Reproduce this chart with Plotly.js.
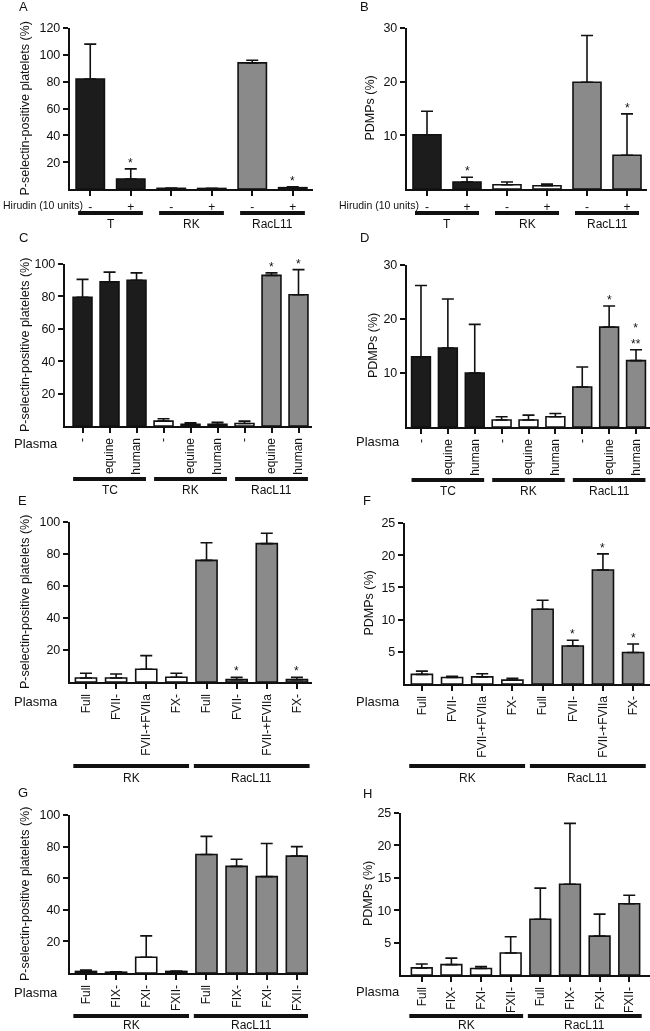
<!DOCTYPE html>
<html>
<head>
<meta charset="utf-8">
<script src="https://cdn.plot.ly/plotly-3.0.1.min.js"></script>
<style>
  body { margin: 0; background: #fff; }
  #chart { width: 650px; height: 1031px; }
  .main-svg { will-change: transform; }
</style>
</head>
<body>
<div id="chart"></div>
<script>
// ---- data ----
const hirudinTicks = ['-', '+', '-', '+', '-', '+'];
const groupsAB = ['T', 'RK', 'RacL11'];
const aMean = [82, 7.5, 0.5, 0.4, 94, 1];
const aErr = [26, 7.5, 0.2, 0.1, 2, 0.6];
const bMean = [10.1, 1.3, 0.8, 0.6, 19.9, 6.3];
const bErr = [4.4, 0.9, 0.5, 0.3, 8.7, 7.7];

const plasmaTicksCD = ['-', 'equine', 'human', '-', 'equine', 'human', '-', 'equine', 'human'];
const groupsCD = ['TC', 'RK', 'RacL11'];
const cMean = [79.5, 89, 90, 3, 1, 1, 1.5, 93, 81];
const cErr = [11, 6, 4.5, 1.5, 1, 1.3, 1.5, 1.5, 15.5];
const dMean = [13, 14.6, 10, 1.3, 1.3, 1.9, 7.4, 18.5, 12.3];
const dErr = [13.2, 9.1, 9, 0.6, 0.9, 0.6, 3.7, 3.9, 2];

const plasmaTicksEF = ['Full', 'FVII-', 'FVII-+FVIIa', 'FX-', 'Full', 'FVII-', 'FVII-+FVIIa', 'FX-'];
const plasmaTicksGH = ['Full', 'FIX-', 'FXI-', 'FXII-', 'Full', 'FIX-', 'FXI-', 'FXII-'];
const groupsEFGH = ['RK', 'RacL11'];
const eMean = [2.5, 2.5, 8, 3, 76, 1.5, 86.5, 1.5];
const eErr = [3, 2.5, 8.5, 2.5, 11, 1.5, 6.5, 1.5];
const fMean = [1.5, 1, 1.1, 0.6, 11.6, 5.9, 17.7, 4.9];
const fErr = [0.5, 0.2, 0.5, 0.3, 1.4, 0.9, 2.5, 1.3];
const gMean = [1, 0.5, 10, 1, 75, 67.5, 61, 74];
const gErr = [0.8, 0.2, 13.5, 0.3, 11.5, 4.5, 21, 6];
const hMean = [1.1, 1.6, 1, 3.4, 8.6, 14, 6, 11];
const hErr = [0.6, 1, 0.3, 2.5, 4.8, 9.4, 3.4, 1.3];

// significance marks
const aStars = ['', '*', '', '', '', '*'];
const bStars = ['', '*', '', '', '', '*'];
const cStars = ['', '', '', '', '', '', '', '*', '*'];
const dStars = ['', '', '', '', '', '', '', '*', '*<br>**'];
const eStars = ['', '', '', '', '', '*', '', '*'];
const fStars = ['', '', '', '', '', '*', '*', '*'];
const noStars = ['', '', '', '', '', '', '', ''];

// group membership (first and last bar index of each group)
const spansAB = [[0, 1], [2, 3], [4, 5]];
const spansCD = [[0, 2], [3, 5], [6, 8]];
const spansEFGH = [[0, 3], [4, 7]];

// ---- styling ----
const W = 650, H = 1031;
const FONT = 'Liberation Sans, Arial, sans-serif';
const INK = '#111';
const FILL = { k: '#1c1c1c', w: '#ffffff', g: '#8a8a8a' };
const fx = px => px / W;
const fy = py => 1 - py / H;

const traces = [];
const layout = {
  width: W, height: H,
  margin: { l: 0, r: 0, t: 0, b: 0 },
  paper_bgcolor: '#fff', plot_bgcolor: '#fff',
  showlegend: false,
  font: { family: FONT, size: 12, color: INK },
  annotations: [], shapes: []
};

function addPanel(n, p) {
  const xa = n === 1 ? 'x' : 'x' + n;
  const ya = n === 1 ? 'y' : 'y' + n;
  const idx = p.mean.map((_, i) => i);

  traces.push({
    type: 'bar', x: idx, y: p.mean, xaxis: xa, yaxis: ya, width: 0.7,
    marker: { color: p.fill.map(c => FILL[c]), line: { color: INK, width: 1.6 } },
    error_y: { type: 'data', symmetric: false, array: p.err, arrayminus: p.err.map(() => 0),
               color: INK, thickness: 1.6, width: 6 },
    hoverinfo: 'skip'
  });

  layout['xaxis' + (n === 1 ? '' : n)] = {
    domain: [fx(p.x0), fx(p.x1)], anchor: ya, range: p.xr,
    showline: true, linewidth: 2.2, linecolor: INK,
    ticks: 'outside', ticklen: 5, tickwidth: 2, tickcolor: INK,
    tickvals: idx, ticktext: p.ticks, tickangle: p.rot ? -90 : 0,
    tickfont: { size: 12, color: INK }, showgrid: false, zeroline: false, fixedrange: true
  };
  layout['yaxis' + (n === 1 ? '' : n)] = {
    domain: [fy(p.yBot), fy(p.yTop)], anchor: xa, range: [0, p.ymax],
    showline: true, linewidth: 2.2, linecolor: INK,
    ticks: 'outside', ticklen: 5, tickwidth: 2, tickcolor: INK,
    tickvals: p.yt, tickfont: { size: 12.5, color: INK }, showgrid: false, zeroline: false, fixedrange: true
  };

  // panel letter
  layout.annotations.push({ xref: 'paper', yref: 'paper', x: fx(p.lx), y: fy(p.ly),
    text: p.letter, showarrow: false, xanchor: 'center', yanchor: 'middle', font: { size: 13, color: INK } });
  // y title
  layout.annotations.push({ xref: 'paper', yref: 'paper', x: fx(p.tx), y: fy((p.yTop + p.yBot) / 2),
    text: p.ytitle, textangle: -90, showarrow: false, xanchor: 'center', yanchor: 'middle',
    font: { size: 12.5, color: INK } });
  // row label (Hirudin / Plasma)
  layout.annotations.push({ xref: 'paper', yref: 'paper', x: fx(p.rx), y: fy(p.ry),
    text: p.rowLabel, showarrow: false, xanchor: 'right', yanchor: 'middle',
    font: { size: p.rowSize, color: INK } });

  // significance marks
  p.stars.forEach((s, i) => {
    if (!s) return;
    layout.annotations.push({ xref: xa, yref: ya, x: i, y: p.mean[i] + p.err[i], text: s,
      showarrow: false, xanchor: 'center', yanchor: 'bottom', yshift: -3,
      font: { size: 12, color: INK } });
  });

  // group bars and labels
  p.spans.forEach((sp, gi) => {
    layout.shapes.push({ type: 'line', xref: xa, yref: 'paper',
      x0: sp[0] - p.pad, x1: sp[1] + p.pad, y0: fy(p.gy), y1: fy(p.gy),
      line: { color: INK, width: 4 } });
    layout.annotations.push({ xref: xa, yref: 'paper', x: (sp[0] + sp[1]) / 2, y: fy(p.gly),
      text: p.groups[gi], showarrow: false, xanchor: 'center', yanchor: 'middle',
      font: { size: 12, color: INK } });
  });
}

const PSEL = 'P-selectin-positive platelets (%)';
const PDMP = 'PDMPs (%)';

addPanel(1, { letter: 'A', lx: 23, ly: 6, x0: 70, x1: 313, yTop: 28, yBot: 189, ymax: 120,
  yt: [20, 40, 60, 80, 100, 120], xr: [-0.5, 5.5], mean: aMean, err: aErr,
  fill: ['k', 'k', 'w', 'w', 'g', 'g'], ticks: hirudinTicks, rot: false, stars: aStars,
  ytitle: PSEL, tx: 25, rowLabel: 'Hirudin (10 units)', rowSize: 10.5, rx: 85, ry: 205,
  spans: spansAB, groups: groupsAB, pad: 0.3, gy: 213, gly: 224 });

addPanel(2, { letter: 'B', lx: 364, ly: 6, x0: 407, x1: 647, yTop: 28, yBot: 189, ymax: 30,
  yt: [10, 20, 30], xr: [-0.5, 5.5], mean: bMean, err: bErr,
  fill: ['k', 'k', 'w', 'w', 'g', 'g'], ticks: hirudinTicks, rot: false, stars: bStars,
  ytitle: PDMP, tx: 370, rowLabel: 'Hirudin (10 units)', rowSize: 10.5, rx: 421, ry: 205,
  spans: spansAB, groups: groupsAB, pad: 0.3, gy: 213, gly: 224 });

addPanel(3, { letter: 'C', lx: 23, ly: 237, x0: 65, x1: 312, yTop: 264, yBot: 426, ymax: 100,
  yt: [20, 40, 60, 80, 100], xr: [-0.65, 8.5], mean: cMean, err: cErr,
  fill: ['k', 'k', 'k', 'w', 'w', 'w', 'w', 'g', 'g'], ticks: plasmaTicksCD, rot: true, stars: cStars,
  ytitle: PSEL, tx: 25, rowLabel: 'Plasma', rowSize: 13, rx: 60, ry: 443,
  spans: spansCD, groups: groupsCD, pad: 0.35, gy: 479, gly: 490 });

addPanel(4, { letter: 'D', lx: 364, ly: 237, x0: 407, x1: 650, yTop: 265, yBot: 427, ymax: 30,
  yt: [10, 20, 30], xr: [-0.52, 8.52], mean: dMean, err: dErr,
  fill: ['k', 'k', 'k', 'w', 'w', 'w', 'g', 'g', 'g'], ticks: plasmaTicksCD, rot: true, stars: dStars,
  ytitle: PDMP, tx: 373, rowLabel: 'Plasma', rowSize: 13, rx: 402, ry: 441,
  spans: spansCD, groups: groupsCD, pad: 0.35, gy: 480, gly: 491 });

addPanel(5, { letter: 'E', lx: 22, ly: 500, x0: 70, x1: 312, yTop: 522, yBot: 682, ymax: 100,
  yt: [20, 40, 60, 80, 100], xr: [-0.53, 7.5], mean: eMean, err: eErr,
  fill: ['w', 'w', 'w', 'w', 'g', 'g', 'g', 'g'], ticks: plasmaTicksEF, rot: true, stars: eStars,
  ytitle: PSEL, tx: 25, rowLabel: 'Plasma', rowSize: 13, rx: 60, ry: 701,
  spans: spansEFGH, groups: groupsEFGH, pad: 0.42, gy: 766, gly: 778 });

addPanel(6, { letter: 'F', lx: 367, ly: 500, x0: 405, x1: 650, yTop: 523, yBot: 684, ymax: 25,
  yt: [5, 10, 15, 20, 25], xr: [-0.56, 7.56], mean: fMean, err: fErr,
  fill: ['w', 'w', 'w', 'w', 'g', 'g', 'g', 'g'], ticks: plasmaTicksEF, rot: true, stars: fStars,
  ytitle: PDMP, tx: 368, rowLabel: 'Plasma', rowSize: 13, rx: 402, ry: 701,
  spans: spansEFGH, groups: groupsEFGH, pad: 0.42, gy: 766, gly: 778 });

addPanel(7, { letter: 'G', lx: 23, ly: 792, x0: 70, x1: 308, yTop: 815, yBot: 973, ymax: 100,
  yt: [20, 40, 60, 80, 100], xr: [-0.53, 7.37], mean: gMean, err: gErr,
  fill: ['w', 'w', 'w', 'w', 'g', 'g', 'g', 'g'], ticks: plasmaTicksGH, rot: true, stars: noStars,
  ytitle: PSEL, tx: 25, rowLabel: 'Plasma', rowSize: 13, rx: 60, ry: 992,
  spans: spansEFGH, groups: groupsEFGH, pad: 0.42, gy: 1016, gly: 1025 });

addPanel(8, { letter: 'H', lx: 367, ly: 793, x0: 401, x1: 650, yTop: 813, yBot: 975, ymax: 25,
  yt: [5, 10, 15, 20, 25], xr: [-0.7, 7.7], mean: hMean, err: hErr,
  fill: ['w', 'w', 'w', 'w', 'g', 'g', 'g', 'g'], ticks: plasmaTicksGH, rot: true, stars: noStars,
  ytitle: PDMP, tx: 368, rowLabel: 'Plasma', rowSize: 13, rx: 402, ry: 991,
  spans: spansEFGH, groups: groupsEFGH, pad: 0.42, gy: 1016, gly: 1025 });

Plotly.newPlot('chart', traces, layout, { staticPlot: true, displayModeBar: false });
</script>
</body>
</html>
